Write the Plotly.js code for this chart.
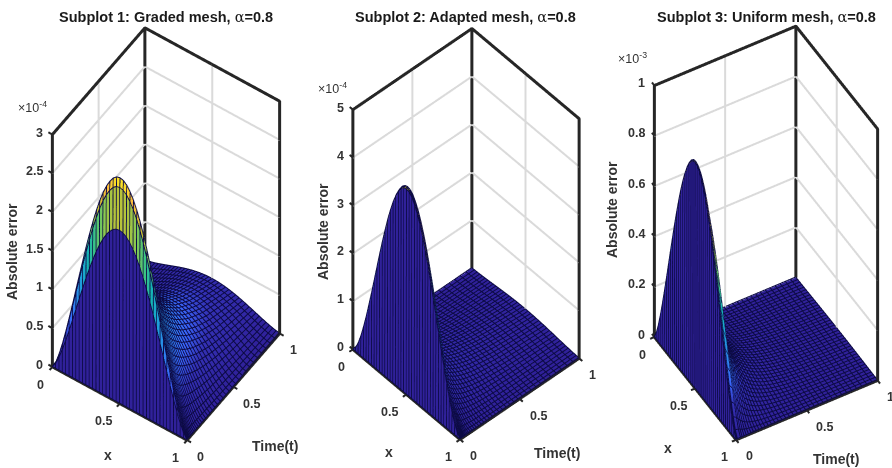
<!DOCTYPE html>
<html><head><meta charset="utf-8">
<script src="https://cdn.plot.ly/plotly-3.0.1.min.js"></script>
<style>html,body{margin:0;padding:0;background:#fff}</style></head>
<body><div id="chart" style="width:892px;height:468px"></div>
<script>
const xGrid=[0,.025,.05,.075,.1,.125,.15,.175,.2,.225,.25,.275,.3,.325,.35,.375,.4,.425,.45,.475,.5,.525,.55,.575,.6,.625,.65,.675,.7,.725,.75,.775,.8,.825,.85,.875,.9,.925,.95,.975,1];
const tGraded=[0,.000625,.0025,.0056,.01,.0156,.0225,.0306,.04,.0506,.0625,.0756,.09,.1056,.1225,.1406,.16,.1806,.2025,.2256,.25,.2756,.3025,.3306,.36,.3906,.4225,.4556,.49,.5256,.5625,.6006,.64,.6806,.7225,.7656,.81,.8556,.9025,.9506,1];
const tAdapted=[0,.002,.006,.012,.018,.024,.03,.037,.045,.0545,.0645,.0756,.09,.1056,.1225,.1406,.16,.1806,.2025,.2256,.25,.2756,.3025,.3306,.36,.3906,.4225,.4556,.49,.5256,.5625,.6006,.64,.6806,.7225,.7656,.81,.8556,.9025,.9506,1];
const tFine=[0,.001,.004,.01,.032,.044,.058,.073,.089,.107,.125,.144,.164,.185,.207,.23,.253,.277,.302,.327,.354,.38,.408,.436,.465,.494,.524,.555,.586,.617,.65,.682,.716,.749,.784,.819,.854,.89,.926,.963,1];
const profileA=[0,.028,.074,.130,.193,.261,.331,.403,.475,.546,.616,.681,.743,.800,.851,.895,.932,.961,.983,.996,1,.996,.983,.961,.932,.895,.851,.800,.743,.681,.616,.546,.475,.403,.331,.261,.193,.130,.074,.028,0];
const profileB=[0,.017,.051,.097,.153,.215,.283,.353,.427,.501,.574,.645,.712,.776,.832,.882,.923,.956,.981,.995,1,.995,.981,.956,.923,.882,.832,.776,.712,.645,.574,.501,.427,.353,.283,.215,.153,.097,.051,.017,0];
const peakTime1=[0,2.23,2.78,2.9,2.85,2.72,2.55,2.4,2.26,2.13,2,1.89,1.78,1.68,1.59,1.5,1.42,1.34,1.26,1.19,1.12,1.05,.98,.92,.86,.8,.75,.7,.65,.6,.56,.52,.48,.44,.41,.38,.35,.32,.29,.26,.23];
const peakTime2=[0,4.27,4.29,4.3,3.7,3.1,2.6,2.2,1.85,1.6,1.4,1.22,1.08,.96,.86,.77,.69,.62,.56,.51,.46,.42,.38,.35,.32,.29,.27,.25,.23,.21,.19,.175,.16,.15,.135,.125,.115,.105,.095,.085,.08];
const peakTime3=[0,.896,.9,.89,.8,.68,.56,.46,.38,.31,.26,.21,.18,.15,.125,.105,.09,.077,.066,.056,.048,.041,.035,.03,.026,.022,.019,.017,.015,.013,.011,.01,.009,.008,.007,.006,.005,.005,.004,.004,.003];
const zTicks1=[0,.5,1,1.5,2,2.5,3], zTicks2=[0,1,2,3,4,5], zTicks3=[0,.2,.4,.6,.8,1];
const xyTicks=[0,.5,1];
const titles=['Subplot 1: Graded mesh, ','Subplot 2: Adapted mesh, ','Subplot 3: Uniform mesh, '];
const parula=[[0,'#30219a'],[.12,'#3330b4'],[.2,'#3a66fb'],[.3,'#2c85ee'],[.4,'#1da0da'],[.5,'#14b5b5'],[.6,'#3ec482'],[.7,'#8bc84f'],[.8,'#cdc12f'],[.9,'#fcbb3d'],[1,'#f9fb15']];
const INK='#262626', TXT='#333333';
const panels=[
 {t:tGraded,prof:profileA,pk:peakTime1,zt:zTicks1,a:34.5,e:52.4,L:2.33,S:.76,cx:166,cy:234,w:300,mult:'×10<sup>-4</sup>',mx:32,my:107,ylx:12,yly:252,xl:[108,455],tl:[275,446],tcx:166},
 {t:tAdapted,prof:profileB,pk:peakTime2,zt:zTicks2,a:48,e:49.2,L:2.29,S:.745,cx:466,cy:234,w:298,mult:'×10<sup>-4</sup>',mx:332,my:88,ylx:323,yly:232,xl:[389,452],tl:[557,453],tcx:465.5},
 {t:tFine,prof:profileA,pk:peakTime3,zt:zTicks3,a:60,e:46.6,L:2.24,S:.76,cx:765.5,cy:232.5,w:250,mult:'×10<sup>-3</sup>',mx:632,my:58,ylx:612,yly:210,xl:[668,448],tl:[836,459],tcx:766}
];
const W=892,H=468,PAD=.06,ZPAD=.02;
const data=[],layout={width:W,height:H,margin:{l:0,r:0,t:0,b:0},paper_bgcolor:'#fff',showlegend:false,annotations:[]};
panels.forEach((p,k)=>{
  const scene='scene'+(k+1), zmax=p.zt[p.zt.length-1], cmax=Math.max(...p.pk);
  const Z=p.t.map((_,j)=>xGrid.map((_,i)=>p.prof[i]*p.pk[j]));
  const base={type:'surface',x:xGrid,scene,showscale:false,colorscale:parula,cmin:0,cmax,hoverinfo:'skip',
    lighting:{ambient:1,diffuse:0,specular:0,fresnel:0,roughness:1}};
  [0,1,2].forEach(j=>data.push({...base,y:[p.t[j],p.t[j+1]],z:[Z[j],Z[j+1]],surfacecolor:[Z[j],Z[j]]}));
  data.push({...base,y:p.t.slice(3),z:Z.slice(3),surfacecolor:Z.slice(2,-1)});
  const gx=[],gy=[],gz=[];
  p.zt.slice(1,-1).forEach(v=>{gx.push(0,0,1,null);gy.push(0,1,1,null);gz.push(v,v,v,null);});
  gx.push(.5,.5,null,0,0,null);gy.push(1,1,null,.5,.5,null);gz.push(0,zmax,null,0,zmax,null);
  data.push({type:'scatter3d',mode:'lines',scene,x:gx,y:gy,z:gz,line:{color:'#dadada',width:4},hoverinfo:'skip'});
  const eps=.003*zmax,ny=-.0015;
  const lx=[],ly=[],lz=[];
  p.t.forEach((tv,j)=>{xGrid.forEach((xv,i)=>{lx.push(xv);ly.push(tv+ny);lz.push(Z[j][i]+eps);});lx.push(null);ly.push(null);lz.push(null);});
  xGrid.forEach((xv,i)=>{p.t.forEach((tv,j)=>{lx.push(xv);ly.push(tv+ny);lz.push(Z[j][i]+eps);});lx.push(null);ly.push(null);lz.push(null);});
  data.push({type:'scatter3d',mode:'lines',scene,x:lx,y:ly,z:lz,line:{color:'#0c0a44',width:2},hoverinfo:'skip'});
  const tx=[],ty=[],tz=[];
  p.zt.forEach(v=>{tx.push(0,-.03,null);ty.push(0,0,null);tz.push(v,v,null);});
  xyTicks.forEach(v=>{tx.push(v,v,null);ty.push(0,-.03,null);tz.push(0,0,null);});
  xyTicks.forEach(v=>{tx.push(1,1.03,null);ty.push(v,v,null);tz.push(0,0,null);});
  data.push({type:'scatter3d',mode:'lines',scene,
    x:[0,0,0,1,1,null,0,0,null,0,1,1],
    y:[0,0,1,1,1,null,1,1,null,0,0,1],
    z:[0,zmax,zmax,zmax,0,null,0,zmax,null,0,0,0],line:{color:INK,width:6},hoverinfo:'skip'});
  data.push({type:'scatter3d',mode:'lines',scene,x:tx,y:ty,z:tz,line:{color:INK,width:4},hoverinfo:'skip'});
  const A=p.a*Math.PI/180,E=p.e*Math.PI/180;
  const ax=(rng)=>({range:rng,autorange:false,showgrid:false,showticklabels:false,ticks:'',zeroline:false,showline:false,showbackground:false,showspikes:false,title:{text:''}});
  const ann=[];
  const font={family:'"Liberation Sans",Arial,sans-serif',size:12.5,color:TXT};
  p.zt.forEach(v=>ann.push({x:0,y:0,z:v,text:'<b>'+v+'</b>',showarrow:false,xanchor:'right',xshift:-7,yshift:2,font}));
  xyTicks.forEach(v=>ann.push({x:v,y:0,z:0,text:'<b>'+v+'</b>',showarrow:false,xanchor:'right',xshift:-6,yshift:-18,font}));
  xyTicks.forEach(v=>ann.push({x:1,y:v,z:0,text:'<b>'+v+'</b>',showarrow:false,xanchor:'left',xshift:8,yshift:-17,font}));
  layout[scene]={domain:{x:[(p.cx-p.w/2)/W,(p.cx+p.w/2)/W],y:[(H-p.cy-215)/H,(H-p.cy+215)/H]},
    aspectmode:'manual',aspectratio:{x:p.S*(1+2*PAD),y:p.S*(1+2*PAD),z:p.L*p.S*(1+2*ZPAD)},
    camera:{projection:{type:'orthographic'},up:{x:0,y:0,z:1},center:{x:0,y:0,z:0},
      eye:{x:Math.sin(A)*Math.cos(E)*1.25,y:-Math.cos(A)*Math.cos(E)*1.25,z:Math.sin(E)*1.25}},
    xaxis:ax([-PAD,1+PAD]),yaxis:ax([-PAD,1+PAD]),zaxis:ax([-ZPAD*zmax,zmax*(1+ZPAD)]),annotations:ann};
  const pa=(x,y,text,f,extra)=>layout.annotations.push({xref:'paper',yref:'paper',x:x/W,y:1-y/H,xanchor:'center',yanchor:'middle',showarrow:false,font:f,text,...(extra||{})});
  pa(p.tcx,17,'<b>'+titles[k]+'</b><span style="font-family:\'DejaVu Serif\'">α</span><b>=0.8</b>',{family:font.family,size:14.5,color:'#1a1a1a'});
  pa(p.mx,p.my,p.mult,{family:font.family,size:12.5,color:TXT});
  pa(p.ylx,p.yly,'<b>Absolute error</b>',{...font,size:14},{textangle:-90});
  pa(p.xl[0],p.xl[1],'<b>x</b>',{...font,size:14});
  pa(p.tl[0],p.tl[1],'<b>Time(t)</b>',{...font,size:14});
});
Plotly.newPlot('chart',data,layout,{displayModeBar:false});
</script></body></html>
